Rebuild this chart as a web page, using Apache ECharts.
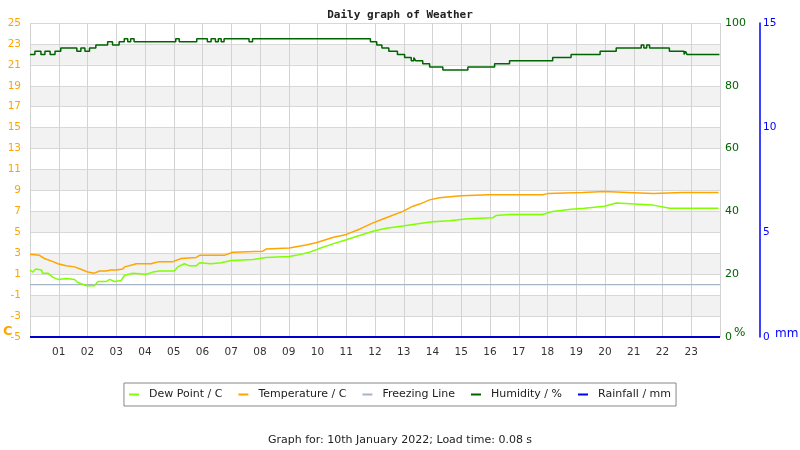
<!DOCTYPE html>
<html><head><meta charset="utf-8">
<script src="https://cdn.jsdelivr.net/npm/echarts@6/dist/echarts.min.js"></script>
<style>html,body{margin:0;padding:0;background:#fff}#c{width:800px;height:450px}</style>
</head><body><div id="c"></div>
<script>
// hours of the day (x) and readings
const hourTicks = ['01','02','03','04','05','06','07','08','09','10','11','12','13','14','15','16','17','18','19','20','21','22','23'];
const tempC = [[0.00,2.9],[0.33,2.8],[0.50,2.5],[0.80,2.2],[0.97,2.0],[1.26,1.8],[1.55,1.7],[1.84,1.4],[2.01,1.2],[2.24,1.1],[2.42,1.3],[2.65,1.3],[2.82,1.4],[3.00,1.4],[3.23,1.5],[3.29,1.7],[3.58,1.9],[3.69,2.0],[4.21,2.0],[4.33,2.1],[4.50,2.2],[4.97,2.2],[5.26,2.5],[5.78,2.6],[5.90,2.8],[6.76,2.8],[7.05,3.1],[8.10,3.2],[8.21,3.4],[9.02,3.5],[9.60,3.8],[9.95,4.0],[10.53,4.5],[11.00,4.8],[11.46,5.3],[11.93,5.9],[12.39,6.4],[12.97,7.0],[13.32,7.5],[13.55,7.7],[13.90,8.1],[14.24,8.3],[14.99,8.5],[15.98,8.6],[17.84,8.6],[18.00,8.7],[19.23,8.8],[19.98,8.9],[20.80,8.8],[21.67,8.7],[22.70,8.8],[23.95,8.8]];
const dewC = [[0.00,1.4],[0.10,1.2],[0.20,1.5],[0.40,1.4],[0.44,1.1],[0.62,1.1],[0.80,0.7],[0.97,0.5],[1.26,0.6],[1.55,0.5],[1.66,0.2],[1.98,-0.1],[2.24,-0.1],[2.36,0.3],[2.42,0.4],[2.65,0.3],[2.77,0.5],[2.94,0.3],[3.17,0.4],[3.29,0.9],[3.58,1.1],[4.04,1.0],[4.27,1.2],[4.50,1.3],[5.02,1.3],[5.14,1.7],[5.37,2.0],[5.55,1.8],[5.78,1.8],[5.90,2.1],[6.30,2.0],[6.65,2.1],[7.00,2.3],[7.76,2.4],[8.21,2.6],[9.02,2.7],[9.25,2.8],[9.72,3.1],[10.01,3.4],[10.53,3.9],[11.00,4.3],[11.46,4.7],[11.93,5.1],[12.39,5.4],[12.97,5.6],[13.43,5.8],[14.01,6.0],[14.59,6.1],[15.23,6.3],[16.10,6.4],[16.21,6.6],[16.68,6.7],[17.84,6.7],[18.18,7.0],[18.82,7.2],[19.28,7.3],[19.98,7.5],[20.39,7.8],[21.67,7.6],[22.25,7.3],[23.95,7.3]];
const humidityPct = [[0,90],[0.17,91],[0.38,90],[0.52,91],[0.70,90],[0.87,91],[1.07,92],[1.63,91],[1.77,92],[1.91,91],[2.07,92],[2.29,93],[2.70,94],[2.87,93],[3.10,94],[3.28,95],[3.40,94],[3.50,95],[3.62,94],[5.07,95],[5.19,94],[5.80,95],[6.17,94],[6.30,95],[6.45,94],[6.55,95],[6.65,94],[6.75,95],[7.62,94],[7.74,95],[11.84,94],[12.06,93],[12.24,92],[12.48,91],[12.78,90],[13.03,89],[13.26,88],[13.35,89],[13.41,88],[13.66,87],[13.90,86],[14.36,85],[15.23,86],[16.16,87],[16.68,88],[18.18,89],[18.82,90],[19.83,91],[20.39,92],[21.26,93],[21.35,92],[21.45,93],[21.55,92],[22.24,91],[22.75,90],[22.80,91],[22.85,90],[23.98,90]];
const freezingC = [[0,0],[24,0]];
const rainfallMm = [[0,0],[24,0]];

const chart = echarts.init(document.getElementById('c'), null, {renderer:'canvas'});
const F = 'DejaVu Sans';
chart.setOption({
  animation:false,
  backgroundColor:'#ffffff',
  title:[
    {text:'Daily graph of Weather', left:'center', top:5,
     textStyle:{fontFamily:'DejaVu Sans Mono', fontWeight:'bold', fontSize:11, color:'#222'}},
    {text:'Graph for: 10th January 2022; Load time: 0.08 s', left:'center', top:430,
     textStyle:{fontFamily:F, fontWeight:'normal', fontSize:11, color:'#222'}}
  ],
  legend:{
    left:'center', top:383, orient:'horizontal',
    borderColor:'#888', borderWidth:1, padding:[6,5,6,5],
    itemWidth:10, itemHeight:2, itemGap:16, icon:'rect',
    textStyle:{fontFamily:F, fontSize:11, color:'#222', padding:[0,0,0,5]},
    data:['Dew Point / C','Temperature / C','Freezing Line','Humidity / %','Rainfall / mm']
  },
  grid:{left:30, right:80, top:23, bottom:113, containLabel:false},
  xAxis:{type:'value', min:0, max:24, interval:1,
    axisLine:{show:false}, axisTick:{show:false},
    axisLabel:{fontFamily:F, fontSize:10.5, color:'#333', margin:10,
      formatter:(v)=> (v>=1 && v<=23) ? hourTicks[v-1] : ''},
    splitLine:{show:true, lineStyle:{color:'#d3d3d3', width:1}}
  },
  yAxis:[
    {type:'value', position:'left', min:-5, max:25, interval:2,
     axisLine:{show:false}, axisTick:{show:false},
     axisLabel:{fontFamily:F, fontSize:10.5, color:'#ffa500', margin:9},
     splitLine:{show:true, lineStyle:{color:'#d8d8d8'}},
     splitArea:{show:true, areaStyle:{color:['#ffffff','#f2f2f2']}}},
    {type:'value', position:'right', min:0, max:100, interval:20,
     axisLine:{show:false}, axisTick:{show:false},
     axisLabel:{fontFamily:F, fontSize:11, color:'#006400', margin:5},
     splitLine:{show:false}},
    {type:'value', position:'right', offset:40, min:0, max:15, interval:5,
     axisLine:{show:true, lineStyle:{color:'#0000ff', width:1.5}}, axisTick:{show:false},
     axisLabel:{fontFamily:F, fontSize:10.5, color:'#0000ff', margin:3},
     splitLine:{show:false}}
  ],
  graphic:[
    {type:'text', left:3, top:325, style:{text:'C', fill:'#ffa500', font:'bold 13px DejaVu Sans'}},
    {type:'text', left:734, top:327, style:{text:'%', fill:'#006400', font:'12px DejaVu Sans'}},
    {type:'text', left:775, top:328, style:{text:'mm', fill:'#0000ff', font:'12px DejaVu Sans'}}
  ],
  series:[
    {name:'Freezing Line', type:'line', yAxisIndex:0, data:freezingC, showSymbol:false,
     lineStyle:{color:'#a8b4c8', width:1.2}, itemStyle:{color:'#a8b4c8'}, z:2},
    {name:'Humidity / %', type:'line', yAxisIndex:1, data:humidityPct, step:'end', showSymbol:false,
     lineStyle:{color:'#006400', width:1.5}, itemStyle:{color:'#006400'}, z:3},
    {name:'Dew Point / C', type:'line', yAxisIndex:0, data:dewC, showSymbol:false,
     lineStyle:{color:'#80ff00', width:1.5}, itemStyle:{color:'#80ff00'}, z:4},
    {name:'Temperature / C', type:'line', yAxisIndex:0, data:tempC, showSymbol:false,
     lineStyle:{color:'#ffa500', width:1.5}, itemStyle:{color:'#ffa500'}, z:5},
    {name:'Rainfall / mm', type:'line', yAxisIndex:2, data:rainfallMm, showSymbol:false,
     lineStyle:{color:'#0000cc', width:2}, itemStyle:{color:'#0000ff'}, z:6}
  ]
});
</script></body></html>
